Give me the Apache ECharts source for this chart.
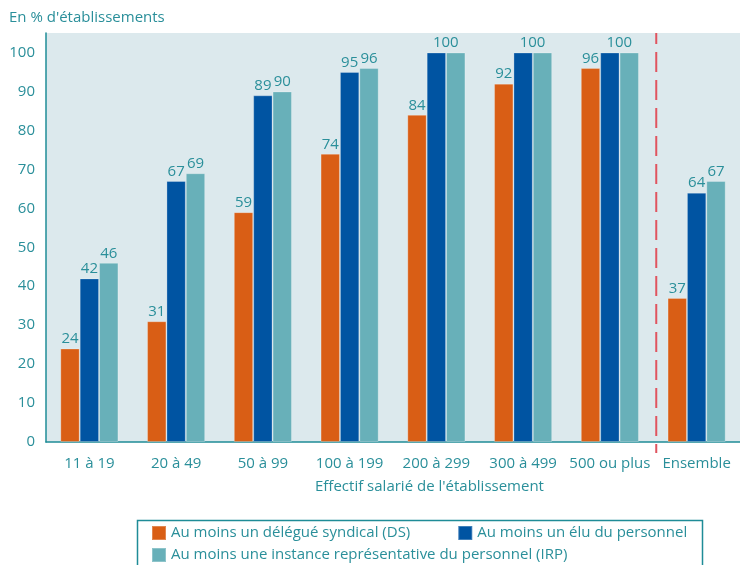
<!DOCTYPE html>
<html>
<head>
<meta charset="utf-8">
<script src="https://cdn.jsdelivr.net/npm/echarts@6/dist/echarts.min.js"></script>
<style>html,body{margin:0;padding:0;background:#fff}#c{width:740px;height:565px}</style>
</head>
<body>
<div id="c"></div>
<script>
var categories = ['11 à 19', '20 à 49', '50 à 99', '100 à 199', '200 à 299', '300 à 499', '500 ou plus', 'Ensemble'];
var seriesNames = ['Au moins un délégué syndical (DS)', 'Au moins un élu du personnel', 'Au moins une instance représentative du personnel (IRP)'];
var dsValues = [24, 31, 59, 74, 84, 92, 96, 37];
var eluValues = [42, 67, 89, 95, 100, 100, 100, 64];
var irpValues = [46, 69, 90, 96, 100, 100, 100, 67];
var yTicks = [0, 10, 20, 30, 40, 50, 60, 70, 80, 90, 100];

var FONT = 'Open Sans';
var FS = 15;
var TEAL_TXT = '#2a8f9a';
var AXIS = '#1f8c97';
var RED = '#e0545f';

function merged(i) { return eluValues[i] === 100 && irpValues[i] === 100; }

var labelBase = { show: true, position: 'top', distance: 2, color: TEAL_TXT, fontFamily: FONT, fontSize: FS };

var chart = echarts.init(document.getElementById('c'), null, { renderer: 'canvas' });
chart.setOption({
  animation: false,
  backgroundColor: '#ffffff',
  textStyle: { fontFamily: FONT },
  title: {
    text: "En % d'établissements", left: 9, top: 10, padding: 0,
    textStyle: { color: TEAL_TXT, fontFamily: FONT, fontSize: FS, fontWeight: 'normal' }
  },
  grid: { left: 46, right: 0, top: 33, bottom: 123, show: true, backgroundColor: '#dce9ed', borderWidth: 0 },
  legend: [
    { data: [seriesNames[0], seriesNames[1]], left: 146, top: 520, itemGap: 47, itemWidth: 14, itemHeight: 14, icon: 'rect',
      textStyle: { color: TEAL_TXT, fontFamily: FONT, fontSize: FS } },
    { data: [seriesNames[2]], left: 146, top: 542, itemWidth: 14, itemHeight: 14, icon: 'rect',
      textStyle: { color: TEAL_TXT, fontFamily: FONT, fontSize: FS } }
  ],
  xAxis: {
    type: 'category', data: categories,
    axisLine: { lineStyle: { color: AXIS, width: 1.5 } },
    axisTick: { show: false },
    axisLabel: { color: TEAL_TXT, fontFamily: FONT, fontSize: FS, margin: 14, interval: 0 },
    splitLine: { show: false }
  },
  yAxis: {
    type: 'value', min: 0, max: 105, interval: 10,
    axisLine: { show: true, lineStyle: { color: AXIS, width: 1.5 } },
    axisTick: { show: false },
    splitLine: { show: false },
    axisLabel: { color: TEAL_TXT, fontFamily: FONT, fontSize: FS, margin: 11,
      formatter: function (v) { return yTicks.indexOf(v) >= 0 ? String(v) : ''; } }
  },
  series: [
    { name: seriesNames[0], type: 'bar', data: dsValues, barGap: '0%', barCategoryGap: '33%',
      itemStyle: { color: '#d95e15', borderColor: 'rgba(255,255,255,0.25)', borderWidth: 1 },
      label: labelBase },
    { name: seriesNames[1], type: 'bar', data: eluValues.map(function (v, i) {
        return merged(i) ? { value: v, label: { show: false } } : v; }),
      itemStyle: { color: '#0054a2', borderColor: 'rgba(255,255,255,0.25)', borderWidth: 1 },
      label: labelBase },
    { name: seriesNames[2], type: 'bar', data: irpValues.map(function (v, i) {
        return merged(i) ? { value: v, label: { offset: [-10, 0] } } : v; }),
      itemStyle: { color: '#68b0b9', borderColor: 'rgba(255,255,255,0.25)', borderWidth: 1 },
      label: labelBase }
  ]
});

// separator between the detailed categories and "Ensemble"
var xa = chart.convertToPixel({ xAxisIndex: 0 }, categories[6]);
var xb = chart.convertToPixel({ xAxisIndex: 0 }, categories[7]);
var xs = (xa + xb) / 2 + 3;
var yTop = chart.convertToPixel({ yAxisIndex: 0 }, 105);
var yZero = chart.convertToPixel({ yAxisIndex: 0 }, 0);
chart.setOption({
  graphic: [
    { type: 'line', shape: { x1: xs, y1: yTop, x2: xs, y2: yZero + 11 },
      style: { stroke: RED, lineWidth: 2, lineDash: [20, 8], lineDashOffset: 9 }, silent: true, z: 5 },
    { type: 'rect', left: 135, top: 518, shape: { width: 565, height: 60 }, style: { fill: 'none', stroke: AXIS, lineWidth: 1.5 }, silent: true },
    { type: 'text', left: 315, top: 479, style: { text: "Effectif salarié de l'établissement", fill: TEAL_TXT, font: FS + 'px "Open Sans"' } }
  ]
});
</script>
</body>
</html>
